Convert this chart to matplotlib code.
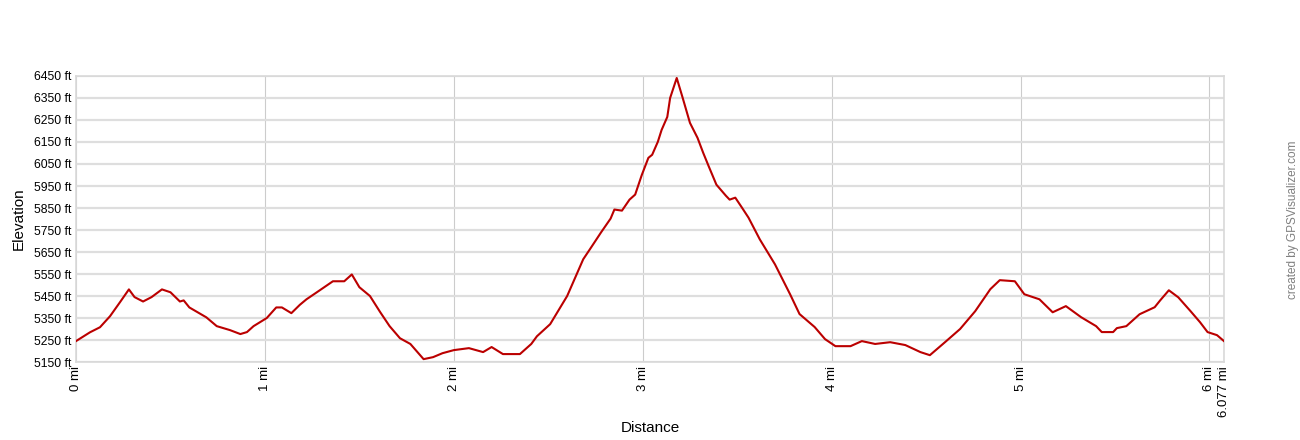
import matplotlib
matplotlib.use('Agg')
import matplotlib.pyplot as plt

# elevation profile
dist_mi = [0.0, 0.074, 0.127, 0.18, 0.233, 0.28, 0.31, 0.355, 0.40, 0.455, 0.50, 0.55, 0.57, 0.60,
	0.69, 0.745, 0.815, 0.87, 0.905, 0.94, 1.01, 1.06, 1.09, 1.14, 1.185, 1.22, 1.275, 1.36, 1.42,
	1.46, 1.50, 1.556, 1.61, 1.66, 1.715, 1.77, 1.84, 1.89, 1.94, 2.0, 2.08, 2.155, 2.20, 2.26,
	2.35, 2.41, 2.44, 2.51, 2.60, 2.685, 2.72, 2.78, 2.83, 2.85, 2.89, 2.93, 2.96, 2.995, 3.03,
	3.05, 3.08, 3.10, 3.13, 3.145, 3.18, 3.21, 3.25, 3.29, 3.32, 3.35, 3.39, 3.44, 3.46, 3.49,
	3.525, 3.56, 3.62, 3.70, 3.78, 3.83, 3.91, 3.965, 4.02, 4.10, 4.16, 4.23, 4.31, 4.39, 4.47,
	4.52, 4.60, 4.68, 4.76, 4.84, 4.89, 4.97, 5.02, 5.10, 5.17, 5.24, 5.32, 5.40, 5.43, 5.49,
	5.51, 5.56, 5.63, 5.71, 5.74, 5.785, 5.835, 5.90, 5.95, 5.99, 6.04, 6.077]
elev_ft = [5245, 5285, 5308, 5358, 5422, 5480, 5445, 5425, 5445, 5480, 5467, 5425, 5430, 5398,
	5353, 5313, 5295, 5277, 5286, 5313, 5350, 5398, 5398, 5372, 5410, 5435, 5467, 5517, 5517,
	5548, 5490, 5450, 5377, 5313, 5258, 5232, 5163, 5172, 5190, 5204, 5213, 5195, 5218, 5186,
	5186, 5232, 5267, 5322, 5450, 5617, 5662, 5740, 5802, 5843, 5838, 5888, 5911, 6000, 6078,
	6092, 6151, 6205, 6264, 6350, 6441, 6355, 6237, 6169, 6101, 6038, 5956, 5906, 5888, 5897,
	5852, 5806, 5707, 5594, 5458, 5368, 5309, 5254, 5222, 5222, 5245, 5232, 5240, 5227, 5195,
	5181, 5240, 5300, 5381, 5481, 5522, 5517, 5458, 5435, 5376, 5404, 5354, 5313, 5286, 5286,
	5304, 5313, 5367, 5399, 5431, 5476, 5444, 5381, 5331, 5286, 5272, 5245]

y_ticks = list(range(5150, 6451, 100))
x_ticks = [0, 1, 2, 3, 4, 5, 6, 6.077]
x_labels = ['0 mi', '1 mi', '2 mi', '3 mi', '4 mi', '5 mi', '6 mi', '6.077 mi']

plt.rcParams['font.family'] = ['Liberation Sans', 'DejaVu Sans']

fig = plt.figure(figsize=(13, 4.4), dpi=100)
ax = fig.add_axes([76/1300, 78/440, 1148/1300, 286/440])

ax.plot(dist_mi, elev_ft, color='#bb0000', lw=1.5, zorder=3)

ax.set_xlim(0, 6.077)
ax.set_ylim(5150, 6450)
ax.set_yticks(y_ticks)
ax.set_yticklabels(['%d ft' % v for v in y_ticks], fontsize=8.8)
ax.set_xticks(x_ticks)
ax.set_xticklabels(x_labels, rotation=90, fontsize=9.5)
ax.tick_params(length=0, pad=3)

ax.grid(axis='y', color='#dedede', lw=1.6)
ax.grid(axis='x', color='#cccccc', lw=0.8)
ax.set_axisbelow(True)
for s in ax.spines.values():
	s.set_color('#d9d9d9')
	s.set_linewidth(1.2)

ax.set_ylabel('Elevation', fontsize=11, labelpad=6)
ax.set_xlabel('Distance', fontsize=11, labelpad=3)

fig.text(1293/1300, 0.5, 'created by GPSVisualizer.com', rotation=90, color='#808080',
	fontsize=8.5, ha='center', va='center')

fig.savefig('out.png', dpi=100)
